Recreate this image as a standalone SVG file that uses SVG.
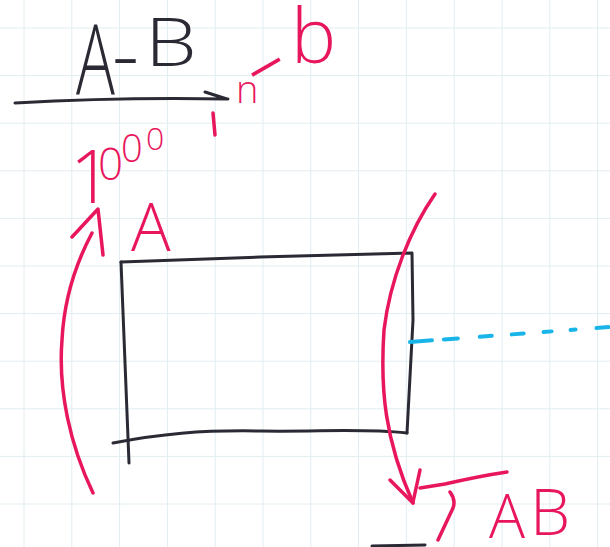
<svg xmlns="http://www.w3.org/2000/svg" width="610" height="547" viewBox="0 0 610 547">
<style>
.grid{stroke:#e2edf1;stroke-width:1;fill:none}
.ink{fill:none;stroke:#2b2933;stroke-width:3;stroke-linecap:round;stroke-linejoin:round}
.pink{fill:none;stroke:#e8175d;stroke-width:3.5;stroke-linecap:round;stroke-linejoin:round}
.cyan{fill:none;stroke:#19b5e8;stroke-width:4;stroke-linecap:round}
.tpink{fill:#e8175d;font-family:"Open Sans","Liberation Sans",sans-serif;font-weight:300}
.tink{fill:#2b2933;font-family:"Open Sans","Liberation Sans",sans-serif;font-weight:300}
</style>
<rect width="610" height="547" fill="#ffffff"/>
<g id="grid" class="grid">
<path d="M24,0V547M71.8,0V547M119.6,0V547M167.4,0V547M215.2,0V547M263,0V547M310.8,0V547M358.6,0V547M406.4,0V547M454.2,0V547M502,0V547M549.8,0V547M597.6,0V547"/>
<path d="M0,28H610M0,75.6H610M0,123.2H610M0,170.8H610M0,218.4H610M0,266H610M0,313.6H610M0,361.2H610M0,408.8H610M0,456.4H610M0,504H610"/>
</g>
<g id="box">
<path class="ink" d="M121,262 L260,257 L412,253 L413,320 L407,433"/>
<path class="ink" d="M113,443 C160,434 200,430 260,431 S360,428 407,433"/>
<path class="ink" d="M121,262 L129,463"/>
<path class="ink" d="M372,546 L425,545"/>
</g>
<g id="connectors">
<path class="ink" d="M15,103 Q120,97 228,99 M205,92 L227,99"/>
<path class="pink" d="M93,493 C70,445 58,390 62,340 C64,300 75,265 92,233"/>
<path class="pink" d="M72,237 L98,209 L103,255"/>
<path class="pink" d="M435,194 C410,230 390,280 384,330 C380,390 385,440 413,503"/>
<path class="pink" d="M390,480 L413,503 M420,470 L413,502"/>
<path class="pink" d="M420,488 L445,484 Q480,476 507,472"/>
<path class="cyan" d="M410,342 L610,327" stroke-dasharray="22 12 14 22 12 20 12 20 8 19 5 21 12 40"/>
</g>
<g id="marks">
<path class="pink" d="M213,113 L215,135"/>
<path class="pink" d="M450,492 Q456,500 453,508 L438,540"/>
</g>
<g id="label-top">
<text class="tink" font-size="98" transform="translate(76,95) scale(0.66,1)">A</text>
<text class="tink" font-size="84" x="112" y="84">-</text>
<text class="tink" font-size="66" transform="translate(145,66) scale(1.25,1)">B</text>
</g>
<g id="label-nb">
<text class="tpink" x="236" y="103" font-size="38">n</text>
<text class="tpink" font-size="60" transform="translate(258,96) rotate(-30) scale(2.2,1.3)">-</text>
<text class="tpink" x="291" y="63" font-size="76">b</text>
</g>
<g id="label-1000">
<text class="tpink" font-size="74" x="70" y="203">1</text>
<text class="tpink" font-size="44" x="98" y="180">0</text>
<text class="tpink" font-size="38" x="121" y="162">0</text>
<text class="tpink" font-size="32" x="146" y="150">0</text>
</g>
<text id="label-a" class="tpink" x="131" y="251" font-size="66">A</text>
<g id="label-ab">
<text class="tpink" font-size="60" x="489" y="538">A</text>
<text class="tpink" font-size="64" x="530" y="535">B</text>
</g>
</svg>
